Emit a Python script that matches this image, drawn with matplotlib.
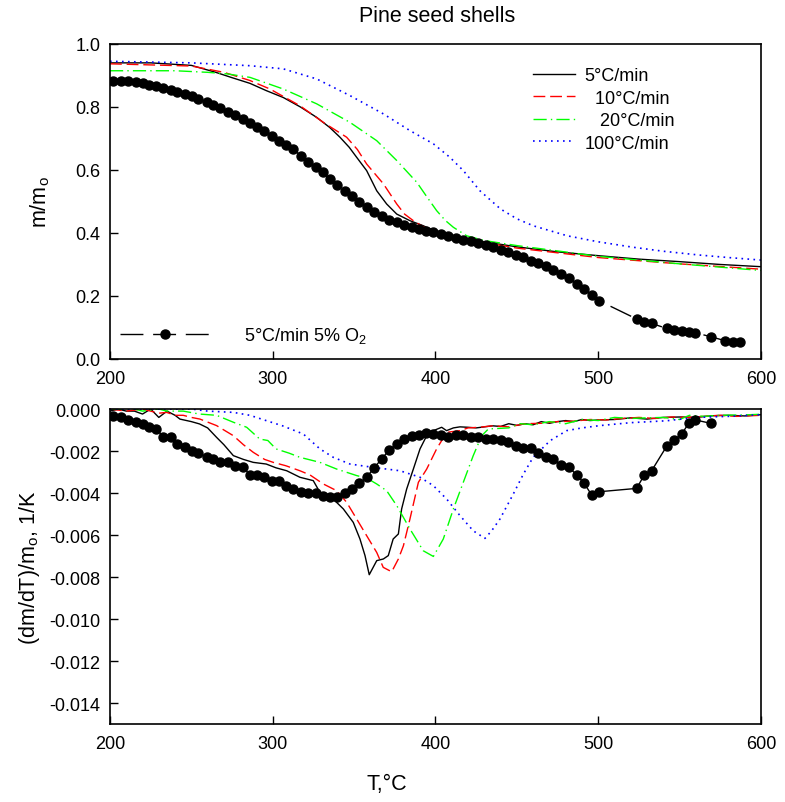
import matplotlib
matplotlib.use("Agg")
import matplotlib.pyplot as plt

plt.rcParams["font.family"] = ["Liberation Sans", "DejaVu Sans"]
plt.rcParams["mathtext.fontset"] = "custom"
plt.rcParams["mathtext.rm"] = "Liberation Sans"
plt.rcParams["mathtext.it"] = "Liberation Sans:italic"

# ---- top panel: m/mo ----
t_m5 = [200, 225, 250, 265, 275, 286, 296, 306.5, 317, 327, 335, 341.3, 347, 351.6,
        357.7, 363.9, 370, 376.2, 384.3, 392.5, 400, 410, 420, 435, 450, 475, 500,
        525, 550, 575, 600]
m_m5 = [0.94, 0.94, 0.932, 0.91, 0.893, 0.875, 0.852, 0.83, 0.80, 0.767, 0.735, 0.704,
        0.672, 0.64, 0.598, 0.534, 0.492, 0.46, 0.439, 0.423, 0.405, 0.39, 0.381, 0.368,
        0.356, 0.34, 0.328, 0.317, 0.309, 0.30, 0.293]

t_m10 = [200, 250, 270, 286, 298.3, 316.7, 331.1, 345.4, 352, 357.7, 368, 376.2, 381,
         386.4, 394.6, 405, 420, 450, 500, 550, 600]
m_m10 = [0.937, 0.93, 0.91, 0.884, 0.857, 0.804, 0.751, 0.704, 0.665, 0.619, 0.556,
         0.492, 0.46, 0.439, 0.413, 0.395, 0.378, 0.352, 0.322, 0.302, 0.285]

t_m20 = [200, 240, 260, 272, 286, 306.5, 327, 347.5, 363.9, 376.2, 388.5, 394, 400.7,
         406, 411, 419.2, 430, 450, 500, 550, 600]
m_m20 = [0.915, 0.915, 0.91, 0.905, 0.894, 0.857, 0.81, 0.751, 0.693, 0.63, 0.561,
         0.52, 0.471, 0.44, 0.418, 0.391, 0.376, 0.36, 0.326, 0.302, 0.281]

t_m100 = [200, 250, 286, 306.5, 327, 347.5, 368, 384.3, 398.7, 408.9, 417.1, 427.3,
          440, 450, 460, 481, 500, 521, 540, 562, 580, 600]
m_m100 = [0.945, 0.94, 0.931, 0.921, 0.889, 0.836, 0.778, 0.725, 0.683, 0.64, 0.598,
          0.534, 0.476, 0.445, 0.423, 0.391, 0.372, 0.355, 0.342, 0.33, 0.322, 0.314]

# 5°C/min in 5% O2 (markers)
t_o2 = [202.0, 206.6, 211.3, 215.8, 220.1, 224.2, 228.3, 232.8, 237.3, 241.4,
        246.1, 250.2, 254.3, 259.4, 263.5, 267.6, 272.3, 276.8, 281.5, 286.0,
        290.1, 294.6, 299.3, 303.8, 308.0, 312.6, 317.4, 321.9, 326.6, 330.7,
        335.2, 339.7, 344.4, 348.9, 353.2, 357.7, 362.2, 366.9, 371.6, 376.1,
        380.6, 385.4, 389.9, 394.2, 398.7, 403.4, 407.9, 412.6, 417.1, 421.6,
        426.3, 431.0, 435.5, 440.0, 444.7, 449.5, 454.0, 458.7, 463.2, 467.9,
        472.4, 477.1, 482.0, 486.8, 491.4, 496.0, 500.5, 523.6, 528.3, 532.8,
        542.0, 546.5, 551.3, 555.6, 559.7, 569.0, 577.9, 582.6, 587.1]
m_o2 = [0.884, 0.883, 0.881, 0.878, 0.875, 0.871, 0.867, 0.861, 0.855, 0.849,
        0.841, 0.834, 0.825, 0.817, 0.806, 0.796, 0.785, 0.775, 0.762, 0.749,
        0.738, 0.724, 0.709, 0.693, 0.679, 0.665, 0.645, 0.626, 0.609, 0.593,
        0.571, 0.553, 0.534, 0.517, 0.497, 0.484, 0.468, 0.455, 0.442, 0.434,
        0.425, 0.418, 0.413, 0.407, 0.402, 0.397, 0.389, 0.383, 0.379, 0.373,
        0.368, 0.362, 0.354, 0.347, 0.339, 0.330, 0.323, 0.312, 0.305, 0.294,
        0.283, 0.270, 0.256, 0.238, 0.222, 0.204, 0.185, 0.127, 0.118, 0.113,
        0.097, 0.093, 0.090, 0.087, 0.083, 0.071, 0.058, 0.055, 0.055]

# ---- bottom panel: (dm/dT)/mo ----
t_d5 = [200, 205, 210, 215, 220, 225, 230, 235, 240, 243, 250, 255, 260, 265.5, 270,
        275.8, 282, 288, 296, 302, 308.6, 316.7, 324.9, 329, 337.2, 343.4, 349.5,
        353.6, 356.7, 359.3, 363.9, 368, 371, 374, 377.2, 379.2, 382.3, 386.4, 390.5,
        394.6, 398.7, 403.8, 406.8, 411, 415, 420, 425, 430, 435, 440, 445, 450, 455,
        460, 465, 470, 475, 480, 485, 490, 495, 500, 510, 520, 530, 540, 550, 560, 570,
        580, 590, 600]
d_d5 = [-0.0001, 0.0, -0.0001, -0.0001, -0.00024, 0.0, -0.0004, -0.0001, -0.0003,
        -0.00048, -0.0006, -0.00071, -0.0009, -0.00135, -0.0017, -0.00222, -0.0024,
        -0.00254, -0.00262, -0.0028, -0.00294, -0.00325, -0.00341, -0.00397, -0.00429,
        -0.00476, -0.0054, -0.00619, -0.00698, -0.00789, -0.00722, -0.00714, -0.00698,
        -0.00619, -0.00595, -0.00476, -0.00381, -0.00286, -0.0019, -0.00127, -0.00103,
        -0.00087, -0.00103, -0.0009, -0.00085, -0.00087, -0.0009, -0.00085, -0.0008,
        -0.00083, -0.0007, -0.00078, -0.0007, -0.00075, -0.0006, -0.00068, -0.0006,
        -0.00055, -0.0006, -0.0005, -0.00055, -0.00052, -0.0005, -0.00042, -0.00048,
        -0.0004, -0.00038, -0.0004, -0.00032, -0.0003, -0.00033, -0.00027]

t_d10 = [200, 210, 220, 225, 230, 234.8, 240, 245, 250, 255.3, 265.5, 275.8, 282, 288,
         295, 300.3, 308, 316.7, 322.9, 331.1, 339.3, 345.4, 351.6, 357.7, 363.9, 367.9,
         373.1, 377.2, 380.3, 384.3, 389.5, 394.6, 400.7, 406.9, 415.1, 420, 427, 435,
         445, 455, 465, 475, 485, 495, 505, 515, 525, 535, 545, 555, 565, 575, 585, 600]
d_d10 = [0.0, -0.0001, 0.0, -0.0001, -0.0002, -0.00016, -0.0003, -0.0003, -0.0004,
         -0.00048, -0.00079, -0.00127, -0.0017, -0.00206, -0.0024, -0.00254, -0.0027,
         -0.00294, -0.00314, -0.00357, -0.00389, -0.00444, -0.00524, -0.00603, -0.00683,
         -0.00754, -0.00775, -0.00714, -0.00651, -0.00524, -0.00349, -0.00286, -0.0019,
         -0.00111, -0.00103, -0.0009, -0.00087, -0.0008, -0.00085, -0.0007, -0.00068,
         -0.0006, -0.00058, -0.0005, -0.00052, -0.00045, -0.0004, -0.00045, -0.00038,
         -0.0004, -0.00035, -0.0003, -0.00035, -0.0003]

t_d20 = [200, 215, 220, 230, 235, 245, 255, 265.5, 275.8, 284, 292, 297, 302, 310,
         316.7, 329, 339.3, 351.6, 358, 363.9, 370, 376.2, 384.3, 392.5, 398.7, 404.8,
         411, 417.1, 423.2, 428.4, 432.5, 445, 452, 460, 470, 480, 490, 500, 510, 520,
         530, 540, 550, 556, 565, 575, 590, 600]
d_d20 = [0.0, 0.0, -0.0001, 0.0, -0.0001, -0.0001, -0.00024, -0.0003, -0.00063,
         -0.00087, -0.00143, -0.0015, -0.0019, -0.0021, -0.0023, -0.00254, -0.00286,
         -0.00317, -0.0033, -0.00357, -0.00389, -0.0046, -0.00571, -0.00675, -0.00702,
         -0.00619, -0.00476, -0.00349, -0.00222, -0.00127, -0.00095, -0.0009, -0.0007,
         -0.00075, -0.0006, -0.0007, -0.0005, -0.00055, -0.0004, -0.00045, -0.00042,
         -0.0004, -0.0005, -0.0003, -0.00035, -0.0003, -0.00028, -0.00025]

t_d100 = [200, 250, 260, 275.8, 286, 296.3, 306, 318.8, 329, 337.2, 347.5, 361.8,
          378.2, 390.5, 398.7, 406.9, 415.1, 423.2, 430.4, 434.5, 439.6, 447.8, 454,
          460, 470.4, 480.6, 490, 501, 520, 542, 560, 580, 600]
d_d100 = [0.0, 0.0, -0.0001, -0.00016, -0.0003, -0.00056, -0.0008, -0.00119, -0.0019,
          -0.0023, -0.00262, -0.00278, -0.00294, -0.00325, -0.00365, -0.00429, -0.00508,
          -0.0058, -0.00616, -0.0058, -0.00524, -0.00405, -0.0031, -0.0023, -0.00151,
          -0.00103, -0.0009, -0.00079, -0.00065, -0.00056, -0.0004, -0.00035, -0.00027]

d_o2 = [-0.00032, -0.00040, -0.00052, -0.00063, -0.00071, -0.00084, -0.00095, -0.00132,
        -0.00135, -0.00167, -0.00179, -0.00198, -0.00211, -0.00227, -0.00238, -0.00251,
        -0.00254, -0.00270, -0.00275, -0.00313, -0.00314, -0.00325, -0.00344, -0.00341,
        -0.00365, -0.00381, -0.00397, -0.00402, -0.00402, -0.00413, -0.00417, -0.00420,
        -0.00402, -0.00381, -0.00354, -0.00325, -0.00281, -0.00238, -0.00195, -0.00167,
        -0.00143, -0.00127, -0.00122, -0.00116, -0.00119, -0.00122, -0.00135, -0.00122,
        -0.00122, -0.00132, -0.00135, -0.00143, -0.00143, -0.00146, -0.00159, -0.00178,
        -0.00186, -0.00187, -0.00211, -0.00230, -0.00238, -0.00267, -0.00278, -0.00314,
        -0.00354, -0.00410, -0.00394, -0.00378, -0.00314, -0.00294, -0.00178, -0.00148,
        -0.00119, -0.00068, -0.00052, -0.00068]

labels = ["5°C/min", "  10°C/min", "   20°C/min", "100°C/min"]
o2_label = "5°C/min 5% O$_2$"
fs = 13
fs_lab = 15.5

fig = plt.figure(figsize=(7.85, 8.03), dpi=100)
ax1 = fig.add_axes([0.1401, 0.5517, 0.8293, 0.3923])
ax2 = fig.add_axes([0.1401, 0.0971, 0.8293, 0.3923])

styles = [dict(color="black", lw=1.0, ls="-"),
          dict(color="red", lw=1.0, ls=(0, (8.5, 3.5))),
          dict(color="#00ff00", lw=1.0, ls=(0, (9.5, 3, 1, 3))),
          dict(color="blue", lw=1.2, ls=(0, (1, 2.6)))]

top = [(t_m5, m_m5), (t_m10, m_m10), (t_m20, m_m20), (t_m100, m_m100)]
bot = [(t_d5, d_d5), (t_d10, d_d10), (t_d20, d_d20), (t_d100, d_d100)]

handles = []
for (t, m), st, lab in zip(top, styles, labels):
    h, = ax1.plot(t, m, label=lab, **st)
    handles.append(h)
h_o2, = ax1.plot(t_o2, m_o2, color="black", lw=1.0, ls=(0, (16.5, 7)),
                 marker="o", ms=6.5, label=o2_label)

for (t, d), st in zip(bot, styles):
    ax2.plot(t, d, **st)
ax2.plot(t_o2[:len(d_o2)], d_o2, color="black", lw=1.0, ls="-", marker="o", ms=6.5)

leg1 = ax1.legend(handles=handles, loc="upper left", bbox_to_anchor=(0.65, 0.926),
                  frameon=False, fontsize=fs, handlelength=2.3, handletextpad=0.55,
                  labelspacing=0.3, borderpad=0, borderaxespad=0)
ax1.add_artist(leg1)
ax1.legend(handles=[h_o2], loc="upper left", bbox_to_anchor=(0.015, 0.108),
           frameon=False, fontsize=fs, handlelength=5.0, handletextpad=1.9,
           numpoints=1, borderpad=0, borderaxespad=0)

ax1.set_xlim(200, 600)
ax1.set_ylim(0.0, 1.0)
ax1.set_xticks([200, 300, 400, 500, 600])
ax1.set_yticks([0.0, 0.2, 0.4, 0.6, 0.8, 1.0])
ax1.set_yticklabels(["0.0", "0.2", "0.4", "0.6", "0.8", "1.0"])
ax1.set_ylabel("m/m$_\\mathrm{o}$", fontsize=fs_lab)
ax1.yaxis.set_label_coords(-0.089, 0.5)

ax2.set_xlim(200, 600)
ax2.set_ylim(-0.015, 0.0)
ax2.set_xticks([200, 300, 400, 500, 600])
yt = [0.0, -0.002, -0.004, -0.006, -0.008, -0.010, -0.012, -0.014]
ax2.set_yticks(yt)
ax2.set_yticklabels(["0.000"] + ["%.3f" % v for v in yt[1:]])
ax2.set_ylabel("(dm/dT)/m$_\\mathrm{o}$, 1/K", fontsize=fs_lab)
ax2.yaxis.set_label_coords(-0.1045, 0.5)

for ax in (ax1, ax2):
    ax.tick_params(direction="in", length=6, width=1.0, labelsize=fs,
                   top=False, right=False)
    ax.tick_params(axis="y", pad=7)
    ax.tick_params(axis="x", pad=8)
    for sp in ax.spines.values():
        sp.set_linewidth(1.2)

fig.text(437 / 785, 1 - 17 / 803, "Pine seed shells", fontsize=fs_lab,
         ha="center", va="center")
fig.text(387 / 785, 1 - 785 / 803, "T,°C", fontsize=fs_lab, ha="center", va="center")

fig.savefig("out.png", dpi=100)
